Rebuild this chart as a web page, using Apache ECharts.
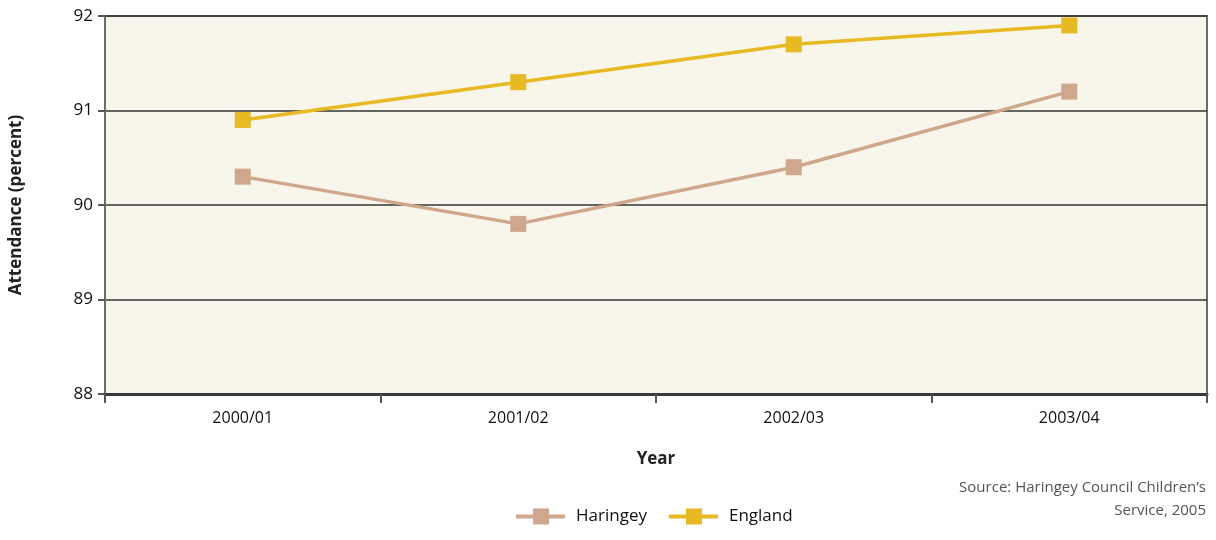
<!DOCTYPE html>
<html>
<head>
<meta charset="utf-8">
<script src="https://cdn.jsdelivr.net/npm/echarts@6/dist/echarts.min.js"></script>
<style>
  html, body { margin: 0; padding: 0; background: #ffffff; }
  #chart { width: 1216px; height: 540px; }
</style>
</head>
<body>
<div id="chart"></div>
<script>
// School attendance, Haringey vs England
const years = ['2000/01', '2001/02', '2002/03', '2003/04'];
const haringey = [90.3, 89.8, 90.4, 91.2];
const england = [90.9, 91.3, 91.7, 91.9];
const yTicks = { min: 88, max: 92, interval: 1 };

const FONT = '"Open Sans", "Noto Sans", sans-serif';
const chart = echarts.init(document.getElementById('chart'), null, { renderer: 'canvas' });

const squareMarker = {
  symbol: 'rect',
  symbolSize: 16
};

// legend glyph: a thick line with a square on it
const lineSquareIcon = 'path://M0,6H17V0H33V6H49V10H33V16H17V10H0Z';

chart.setOption({
  animation: false,
  textStyle: { fontFamily: FONT },
  grid: {
    left: 103, right: 9, top: 16, bottom: 146,
    show: true,
    backgroundColor: '#f8f5ea',
    borderColor: '#6b6b6b',
    borderWidth: 2
  },
  xAxis: {
    type: 'category',
    data: years,
    boundaryGap: true,
    name: 'Year',
    nameLocation: 'middle',
    nameGap: 57,
    nameTextStyle: { fontFamily: FONT, fontWeight: 'bold', fontSize: 17, color: '#222' },
    axisLine: { show: true, lineStyle: { color: '#3a3a3a', width: 3 } },
    axisTick: { show: true, length: 9, alignWithLabel: false, lineStyle: { color: '#555', width: 2 } },
    axisLabel: { fontFamily: FONT, fontSize: 16, color: '#111', margin: 16 },
    splitLine: { show: false }
  },
  yAxis: {
    type: 'value',
    min: yTicks.min, max: yTicks.max, interval: yTicks.interval,
    name: 'Attendance (percent)',
    nameLocation: 'middle',
    nameGap: 80,
    nameRotate: 90,
    nameTextStyle: { fontFamily: FONT, fontWeight: 'bold', fontSize: 17, color: '#222' },
    axisLine: { show: true, lineStyle: { color: '#6b6b6b', width: 2 } },
    axisTick: { show: true, length: 7, lineStyle: { color: '#555', width: 2 } },
    axisLabel: { fontFamily: FONT, fontSize: 17, color: '#111', margin: 12 },
    splitLine: { show: true, lineStyle: { color: '#333', width: 1.5 } }
  },
  legend: {
    top: 503,
    left: 511,
    itemWidth: 49,
    itemHeight: 16,
    itemGap: 22,
    icon: lineSquareIcon,
    textStyle: { fontFamily: FONT, fontSize: 17, color: '#111', padding: [0, 0, 0, 6] },
    data: ['Haringey', 'England']
  },
  graphic: [{
    type: 'text',
    x: 1206,
    y: 476,
    style: {
      text: 'Source: Haringey Council Children\u2019s\nService, 2005',
      align: 'right',
      verticalAlign: 'top',
      fontFamily: FONT,
      fontSize: 15,
      lineHeight: 23,
      fill: '#555'
    }
  }],
  series: [
    Object.assign({
      name: 'Haringey',
      type: 'line',
      data: haringey,
      itemStyle: { color: '#cfa78d' },
      lineStyle: { color: '#cfa78d', width: 3.5 }
    }, squareMarker),
    Object.assign({
      name: 'England',
      type: 'line',
      data: england,
      itemStyle: { color: '#e7b923' },
      lineStyle: { color: '#e7b923', width: 3.5 }
    }, squareMarker)
  ]
});
</script>
</body>
</html>
